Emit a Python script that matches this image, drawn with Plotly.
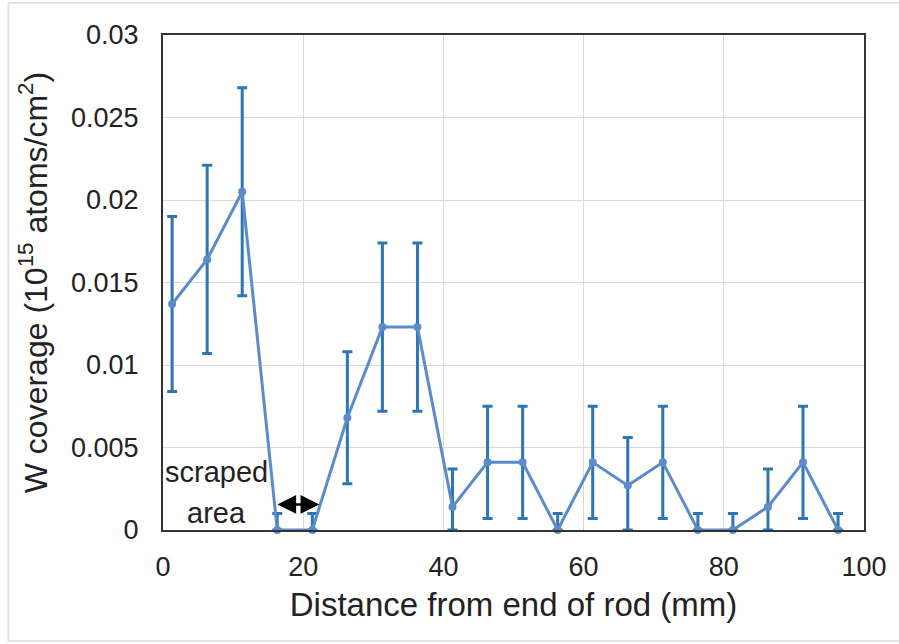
import numpy as np
import plotly.graph_objects as go

# Measurement positions along the rod (mm)
distance_mm = [1.3, 6.3, 11.3, 16.3, 21.3, 26.3, 31.3, 36.3, 41.3, 46.3,
               51.3, 56.3, 61.3, 66.3, 71.3, 76.3, 81.3, 86.3, 91.3, 96.3]
# W coverage (10^15 atoms/cm^2)
w_coverage = [0.0137, 0.0164, 0.0205, 0.0, 0.0, 0.0068, 0.0123, 0.0123, 0.0014, 0.0041,
              0.0041, 0.0, 0.0041, 0.0027, 0.0041, 0.0, 0.0, 0.0014, 0.0041, 0.0]
# Uncertainty of each measurement
w_error = [0.0053, 0.0057, 0.0063, 0.0010, 0.0010, 0.0040, 0.0051, 0.0051, 0.0023, 0.0034,
           0.0034, 0.0010, 0.0034, 0.0029, 0.0034, 0.0010, 0.0010, 0.0023, 0.0034, 0.0010]

x_ticks = [0, 20, 40, 60, 80, 100]
y_ticks = [0, 0.005, 0.01, 0.015, 0.02, 0.025, 0.03]
y_tick_text = ["0", "0.005", "0.01", "0.015", "0.02", "0.025", "0.03"]

y = np.array(w_coverage)
err = np.array(w_error)
# coverage cannot go below zero, so lower bars stop at the axis
err_minus = np.minimum(err, y)

FONT = "Liberation Sans, Arial, sans-serif"

fig = go.Figure()
fig.add_trace(go.Scatter(
    x=distance_mm, y=w_coverage,
    mode="lines+markers",
    line=dict(color="#5B8BCB", width=3),
    marker=dict(color="#5B8BCB", size=8),
    error_y=dict(type="data", symmetric=False, array=err, arrayminus=err_minus,
                 color="#2E75B6", thickness=3, width=5),
    cliponaxis=False,
    showlegend=False,
))

# scraped-area label and double-headed arrow
fig.add_annotation(x=7.6, y=0.0035, xref="x", yref="y", text="scraped",
                   showarrow=False, font=dict(family=FONT, size=29, color="#222"))
fig.add_annotation(x=7.6, y=0.00105, xref="x", yref="y", text="area",
                   showarrow=False, font=dict(family=FONT, size=29, color="#222"))
fig.add_annotation(x=22.3, y=0.00155, ax=16.1, ay=0.00155, xref="x", yref="y",
                   axref="x", ayref="y", text="", showarrow=True,
                   arrowhead=2, arrowside="end+start", arrowsize=1.5,
                   arrowwidth=2.5, arrowcolor="black")

# light frame around the whole figure
fig.add_shape(type="rect", xref="paper", yref="paper",
              x0=-0.2205, x1=1.2, y0=-0.2242, y1=1.0646,
              line=dict(color="#e4e4e4", width=2), layer="below")

fig.update_layout(
    width=899, height=644,
    margin=dict(l=163, r=33, t=35, b=114),
    paper_bgcolor="white", plot_bgcolor="white",
    font=dict(family=FONT, color="#222"),
    xaxis=dict(
        range=[0, 100], tickvals=x_ticks, tickfont=dict(size=27),
        showgrid=True, gridcolor="#d9d9d9", gridwidth=1,
        showline=True, linecolor="#333", linewidth=2, mirror=True,
        ticks="outside", ticklen=12, tickcolor="rgba(0,0,0,0)",
        zeroline=False,
        title=dict(text="Distance from end of rod (mm)", font=dict(size=33), standoff=11),
    ),
    yaxis=dict(
        range=[0, 0.03], tickvals=y_ticks, ticktext=y_tick_text, tickfont=dict(size=27),
        showgrid=True, gridcolor="#d9d9d9", gridwidth=1,
        showline=True, linecolor="#333", linewidth=2, mirror=True,
        ticks="outside", ticklen=17, tickcolor="rgba(0,0,0,0)",
        zeroline=False,
        title=dict(text="W coverage (10<sup>15</sup> atoms/cm<sup>2</sup>)",
                   font=dict(size=32), standoff=14),
    ),
)

fig.write_html("out.html")
